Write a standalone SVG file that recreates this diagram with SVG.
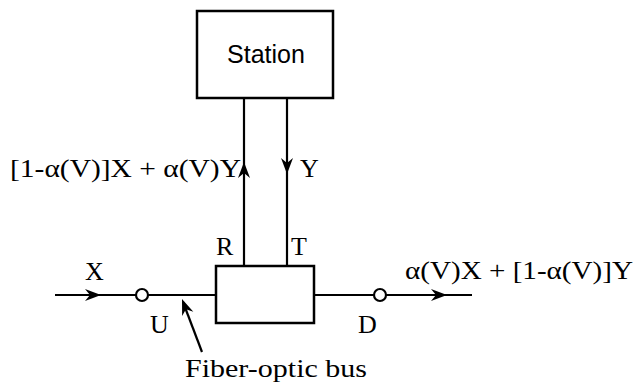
<svg xmlns="http://www.w3.org/2000/svg" width="635" height="388" viewBox="0 0 635 388">
<style>
.ln{stroke:#000;stroke-width:2.2;fill:none}
.bx{stroke:#000;stroke-width:2.5;fill:#fff}
.t{font-family:"Liberation Serif",serif;font-size:26px;fill:#000}
.s{font-family:"Liberation Sans",sans-serif;font-size:25px;fill:#000}
.ah{fill:#000;stroke:none}
</style>
<defs>
<path id="ahd" d="M0,0 L-16,-6 L-11,0 L-16,6 Z"/>
</defs>
<rect width="635" height="388" fill="#fff"/>
<g id="connectors">
<line class="ln" x1="244" y1="98" x2="244" y2="266"/>
<line class="ln" x1="287" y1="98" x2="287" y2="266"/>
<use href="#ahd" class="ah" transform="translate(244,162) rotate(-90)"/>
<use href="#ahd" class="ah" transform="translate(287,174) rotate(90)"/>
<line class="ln" x1="55" y1="295" x2="136" y2="295"/>
<use href="#ahd" class="ah" transform="translate(101,295)"/>
<line class="ln" x1="148" y1="295" x2="216" y2="295"/>
<line class="ln" x1="314" y1="295" x2="374" y2="295"/>
<line class="ln" x1="386" y1="295" x2="472" y2="295"/>
<use href="#ahd" class="ah" transform="translate(447,295)"/>
<line class="ln" x1="202" y1="352" x2="183" y2="302"/>
<use href="#ahd" class="ah" transform="translate(182,299) rotate(-111)"/>
<circle class="ln" cx="142" cy="295" r="6"/>
<circle class="ln" cx="380" cy="295" r="6"/>
</g>
<g id="station">
<rect class="bx" x="197" y="11" width="136" height="87"/>
<text class="s" x="266" y="63" text-anchor="middle">Station</text>
</g>
<g id="coupler">
<rect class="bx" x="216" y="266" width="98" height="57"/>
</g>
<g id="labels">
<text class="t" x="10" y="177" textLength="231" lengthAdjust="spacingAndGlyphs">[1-α(V)]X + α(V)Y</text>
<text class="t" x="300" y="177">Y</text>
<text class="t" x="216" y="255">R</text>
<text class="t" x="291" y="255">T</text>
<text class="t" x="85" y="280">X</text>
<text class="t" x="150" y="333">U</text>
<text class="t" x="358" y="333">D</text>
<text class="t" x="405" y="279" textLength="228" lengthAdjust="spacingAndGlyphs">α(V)X + [1-α(V)]Y</text>
<text class="t" x="185" y="377" textLength="182" lengthAdjust="spacingAndGlyphs">Fiber-optic bus</text>
</g>
</svg>
